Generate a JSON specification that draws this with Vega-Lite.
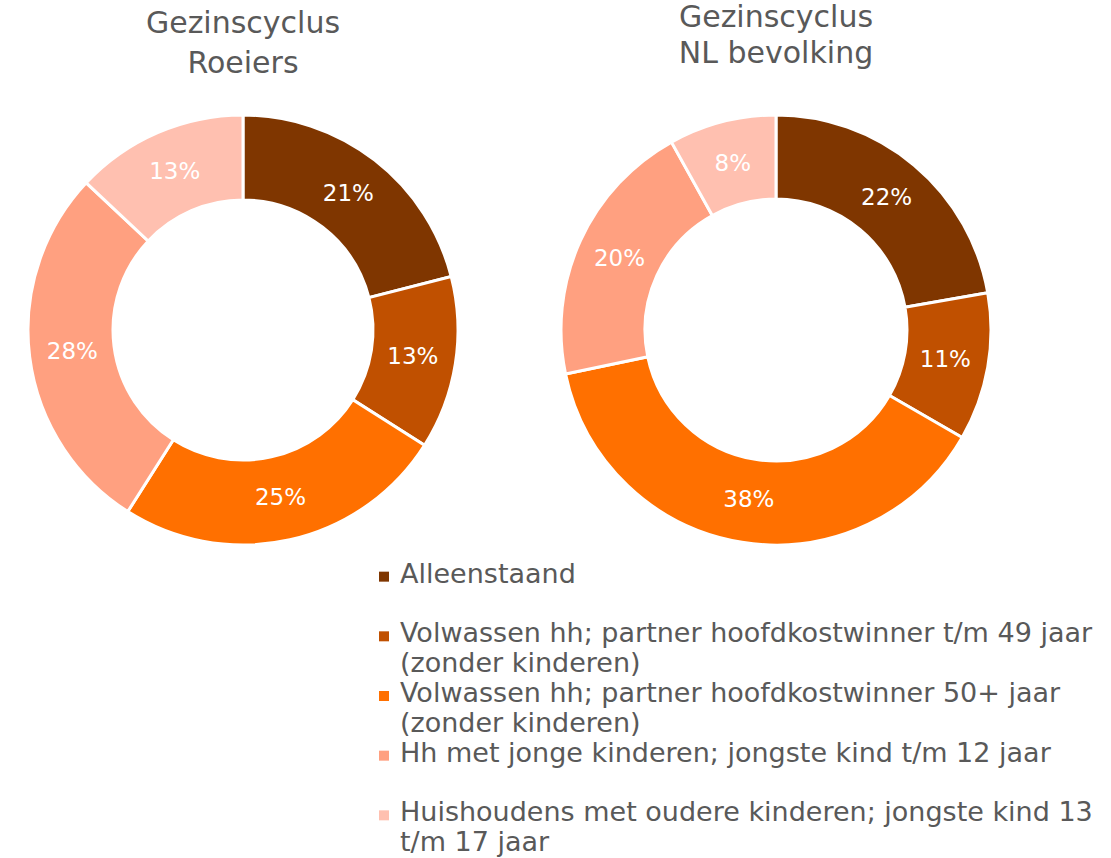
{
  "$schema": "https://vega.github.io/schema/vega-lite/v6.json",
  "background": "white",
  "padding": {"left": 22, "top": 3, "right": 0, "bottom": 0},
  "config": {
    "view": {"stroke": null},
    "font": "DejaVu Sans",
    "title": {"fontSize": 30, "fontWeight": "normal", "color": "#595959", "lineHeight": 39, "anchor": "middle", "font": "DejaVu Sans"}
  },
  "datasets": {
    "pie": [
      {"chart": "Roeiers", "idx": 1, "cat": "Alleenstaand", "value": 0.21},
      {"chart": "Roeiers", "idx": 2, "cat": "Volwassen hh; partner hoofdkostwinner t/m 49 jaar (zonder kinderen)", "value": 0.13},
      {"chart": "Roeiers", "idx": 3, "cat": "Volwassen hh; partner hoofdkostwinner 50+ jaar (zonder kinderen)", "value": 0.25},
      {"chart": "Roeiers", "idx": 4, "cat": "Hh met jonge kinderen; jongste kind t/m 12 jaar", "value": 0.28},
      {"chart": "Roeiers", "idx": 5, "cat": "Huishoudens met oudere kinderen; jongste kind 13 t/m 17 jaar", "value": 0.13},
      {"chart": "NL", "idx": 1, "cat": "Alleenstaand", "value": 0.22},
      {"chart": "NL", "idx": 2, "cat": "Volwassen hh; partner hoofdkostwinner t/m 49 jaar (zonder kinderen)", "value": 0.11},
      {"chart": "NL", "idx": 3, "cat": "Volwassen hh; partner hoofdkostwinner 50+ jaar (zonder kinderen)", "value": 0.38},
      {"chart": "NL", "idx": 4, "cat": "Hh met jonge kinderen; jongste kind t/m 12 jaar", "value": 0.20},
      {"chart": "NL", "idx": 5, "cat": "Huishoudens met oudere kinderen; jongste kind 13 t/m 17 jaar", "value": 0.08}
    ],
    "legend": [
      {"idx": 1, "cat": "Alleenstaand", "label": "Alleenstaand"},
      {"idx": 2, "cat": "Volwassen hh; partner hoofdkostwinner t/m 49 jaar (zonder kinderen)", "label": "Volwassen hh; partner hoofdkostwinner t/m 49 jaar|(zonder kinderen)"},
      {"idx": 3, "cat": "Volwassen hh; partner hoofdkostwinner 50+ jaar (zonder kinderen)", "label": "Volwassen hh; partner hoofdkostwinner 50+ jaar|(zonder kinderen)"},
      {"idx": 4, "cat": "Hh met jonge kinderen; jongste kind t/m 12 jaar", "label": "Hh met jonge kinderen; jongste kind t/m 12 jaar"},
      {"idx": 5, "cat": "Huishoudens met oudere kinderen; jongste kind 13 t/m 17 jaar", "label": "Huishoudens met oudere kinderen; jongste kind 13|t/m 17 jaar"}
    ]
  },
  "vconcat": [
    {
      "hconcat": [
        {
          "title": {"text": ["Gezinscyclus", "Roeiers"], "offset": 30, "lineHeight": 40},
          "width": 430, "height": 430,
          "data": {"name": "pie"},
          "transform": [{"filter": "datum.chart === 'Roeiers'"}],
          "encoding": {
            "theta": {"field": "value", "type": "quantitative", "stack": true},
            "order": {"field": "idx", "type": "quantitative"}
          },
          "layer": [
            {
              "mark": {"type": "arc", "innerRadius": 130, "outerRadius": 215, "stroke": "white", "strokeWidth": 3},
              "encoding": {
                "color": {"field": "idx", "type": "ordinal", "legend": null,
                  "scale": {"domain": [1, 2, 3, 4, 5], "range": ["#7F3600", "#C05000", "#FF7000", "#FFA080", "#FFC0B0"]}}
              }
            },
            {
              "mark": {"type": "text", "radius": 172, "fontSize": 23, "color": "white", "font": "DejaVu Sans"},
              "encoding": {"text": {"field": "value", "type": "quantitative", "format": ".0%"}, "detail": {"field": "idx"}}
            }
          ]
        },
        {
          "title": {"text": ["Gezinscyclus", "NL bevolking"], "offset": 40, "lineHeight": 36},
          "width": 430, "height": 430,
          "data": {"name": "pie"},
          "transform": [{"filter": "datum.chart === 'NL'"}],
          "encoding": {
            "theta": {"field": "value", "type": "quantitative", "stack": true},
            "order": {"field": "idx", "type": "quantitative"}
          },
          "layer": [
            {
              "mark": {"type": "arc", "innerRadius": 131, "outerRadius": 215, "stroke": "white", "strokeWidth": 3},
              "encoding": {
                "color": {"field": "idx", "type": "ordinal", "legend": null,
                  "scale": {"domain": [1, 2, 3, 4, 5], "range": ["#7F3600", "#C05000", "#FF7000", "#FFA080", "#FFC0B0"]}}
              }
            },
            {
              "mark": {"type": "text", "radius": 172, "fontSize": 23, "color": "white", "font": "DejaVu Sans"},
              "encoding": {"text": {"field": "value", "type": "quantitative", "format": ".0%"}, "detail": {"field": "idx"}}
            }
          ]
        }
      ],
      "spacing": 91
    },
    {
      "width": 1080, "height": 290,
      "data": {"name": "legend"},
      "encoding": {
        "y": {"field": "idx", "type": "ordinal", "axis": null, "scale": {"type": "point", "padding": 0.43}},
        "x": {"datum": 356, "type": "quantitative", "axis": null, "scale": {"domain": [0, 1080]}}
      },
      "layer": [
        {
          "mark": {"type": "point", "shape": "square", "filled": true, "size": 100, "opacity": 1},
          "encoding": {
            "color": {"field": "idx", "type": "ordinal", "legend": null,
              "scale": {"domain": [1, 2, 3, 4, 5], "range": ["#7F3600", "#C05000", "#FF7000", "#FFA080", "#FFC0B0"]}}
          }
        },
        {
          "mark": {"type": "text", "align": "left", "baseline": "top", "dx": 16, "dy": -15, "fontSize": 27, "lineHeight": 30, "lineBreak": "|", "color": "#595959", "font": "DejaVu Sans"},
          "encoding": {"text": {"field": "label", "type": "nominal"}}
        }
      ]
    }
  ],
  "spacing": 0
}
